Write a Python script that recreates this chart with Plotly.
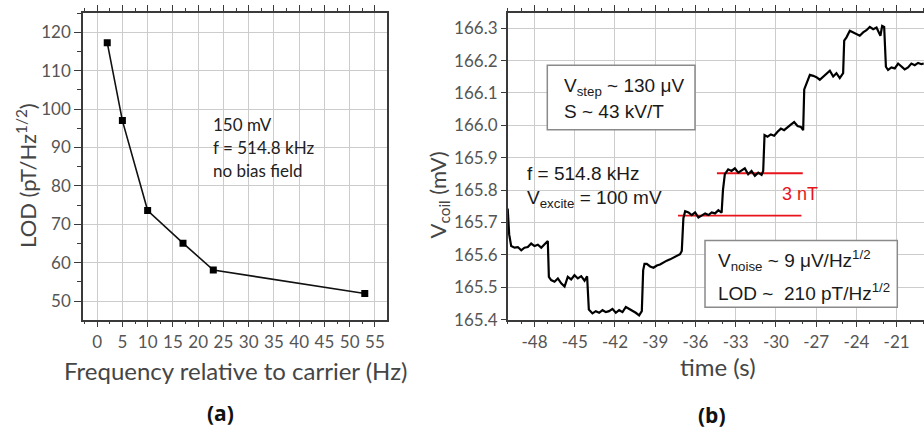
import plotly.graph_objects as go

# ---- panel (a): limit of detection vs. frequency offset ----
freq_hz = [2, 5, 10, 17, 23, 53]
lod_pt = [117.3, 97.0, 73.6, 65.1, 58.1, 52.0]

# ---- panel (b): coil voltage steps over time ----
time_s = [
    -50.00, -49.89, -49.74, -49.49, -49.24, -48.99, -48.75, -48.50, -48.25, -48.00,
    -47.75, -47.50, -47.25, -47.01, -46.93, -46.76, -46.51, -46.26, -46.01, -45.76,
    -45.52, -45.27, -45.02, -44.77, -44.52, -44.27, -44.08, -43.95, -43.68, -43.43,
    -43.18, -42.93, -42.68, -42.44, -42.19, -41.94, -41.69, -41.44, -41.19, -40.95,
    -40.70, -40.45, -40.20, -40.00, -39.90, -39.80, -39.63, -39.38, -39.13, -38.88,
    -38.64, -38.39, -38.14, -37.89, -37.64, -37.39, -37.15, -37.02, -36.90, -36.77,
    -36.52, -36.28, -36.03, -35.78, -35.53, -35.28, -35.03, -34.79, -34.54, -34.29,
    -34.05, -33.95, -33.81, -33.56, -33.31, -33.06, -32.81, -32.57, -32.32, -32.07,
    -31.82, -31.57, -31.32, -31.07, -30.95, -30.85, -30.63, -30.38, -30.13, -29.88,
    -29.63, -29.39, -29.14, -28.89, -28.64, -28.39, -28.14, -27.97, -27.89, -27.72,
    -27.47, -27.22, -26.98, -26.73, -26.48, -26.23, -25.98, -25.73, -25.49, -25.24,
    -24.99, -24.91, -24.74, -24.49, -24.24, -23.99, -23.75, -23.50, -23.25, -23.00,
    -22.75, -22.50, -22.33, -22.21, -22.08, -21.93, -21.80, -21.64, -21.39, -21.14,
    -20.89, -20.64, -20.40, -20.15, -19.90, -19.65, -19.40, -19.15, -18.98,
]
v_coil_mv = [
    165.743, 165.663, 165.627, 165.622, 165.624, 165.614, 165.622, 165.624, 165.635, 165.627,
    165.631, 165.622, 165.633, 165.643, 165.532, 165.522, 165.517, 165.527, 165.512, 165.502,
    165.532, 165.524, 165.537, 165.527, 165.534, 165.520, 165.534, 165.431, 165.419, 165.426,
    165.421, 165.429, 165.423, 165.426, 165.433, 165.421, 165.429, 165.423, 165.439, 165.433,
    165.429, 165.421, 165.413, 165.426, 165.552, 165.572, 165.572, 165.564, 165.560, 165.567,
    165.570, 165.577, 165.582, 165.586, 165.592, 165.597, 165.602, 165.612, 165.713, 165.735,
    165.731, 165.723, 165.731, 165.715, 165.721, 165.728, 165.723, 165.731, 165.728, 165.738,
    165.730, 165.800, 165.849, 165.864, 165.859, 165.867, 165.854, 165.861, 165.867, 165.849,
    165.859, 165.844, 165.854, 165.847, 165.859, 165.970, 165.965, 165.972, 165.968, 165.980,
    165.990, 165.985, 165.995, 166.002, 166.010, 165.998, 165.995, 165.985, 166.111, 166.131,
    166.156, 166.153, 166.149, 166.141, 166.151, 166.161, 166.169, 166.151, 166.161, 166.146,
    166.161, 166.262, 166.272, 166.292, 166.287, 166.280, 166.277, 166.287, 166.294, 166.304,
    166.297, 166.302, 166.287, 166.277, 166.307, 166.304, 166.181, 166.171, 166.179, 166.176,
    166.191, 166.181, 166.173, 166.179, 166.191, 166.186, 166.193, 166.189, 166.191,
]

# time-axis ticks, labelled with a plain hyphen-minus
time_ticks = [-48, -45, -42, -39, -36, -33, -30, -27, -24, -21]
time_tick_labels = ["-48", "-45", "-42", "-39", "-36", "-33", "-30", "-27", "-24", "-21"]

# red reference levels marking one 3 nT step
ref_levels_mv = [165.721, 165.852]
ref_start_s = [-37.3, -34.4]
ref_end_s = [-28.1, -28.0]

W, H = 924, 440
TICK_FONT = dict(family="Lato", size=17, color="#555555")
XTITLE_FONT = dict(family="Lato", size=24, color="#454545")
YTITLE_FONT = dict(family="Lato", size=22, color="#454545")
NOTE_FONT = dict(family="Liberation Sans", size=19, color="#1a1a1a")
GRID = "#cccccc"
FRAME = "#3a3a3a"


def px(x):
    return x / W


def py(y):
    return 1 - y / H


fig = go.Figure()

fig.add_trace(go.Scatter(
    x=freq_hz, y=lod_pt, mode="lines+markers",
    line=dict(color="#111111", width=1.6),
    marker=dict(symbol="square", size=7, color="#000000"),
    xaxis="x", yaxis="y", showlegend=False,
))

for lvl, t0, t1 in zip(ref_levels_mv, ref_start_s, ref_end_s):
    fig.add_trace(go.Scatter(
        x=[t0, t1], y=[lvl, lvl], mode="lines",
        line=dict(color="#e8141c", width=1.8),
        xaxis="x2", yaxis="y2", showlegend=False,
    ))

fig.add_trace(go.Scatter(
    x=time_s, y=v_coil_mv, mode="lines",
    line=dict(color="#000000", width=2.2),
    xaxis="x2", yaxis="y2", showlegend=False,
))

common_axis = dict(
    showgrid=True, gridcolor=GRID, gridwidth=1.2,
    showline=True, linecolor=FRAME, linewidth=1.5,
    ticks="outside", tickcolor=FRAME, tickwidth=1.2,
    tickfont=TICK_FONT, zeroline=False,
)

fig.update_layout(
    width=W, height=H,
    margin=dict(l=0, r=0, t=0, b=0),
    paper_bgcolor="white", plot_bgcolor="white",
    xaxis=dict(
        **common_axis, domain=[px(83), px(387)], range=[-2.8, 57.4],
        tick0=0, dtick=5, ticklen=6, mirror="ticks", anchor="y",
        minor=dict(dtick=2.5, ticklen=3, showgrid=False, tickcolor=FRAME),
    ),
    yaxis=dict(
        **common_axis, domain=[py(327), py(13)], range=[45.2, 125.1],
        tick0=0, dtick=10, ticklen=7, mirror=True, anchor="x",
        minor=dict(dtick=5, ticklen=4, showgrid=False, tickcolor=FRAME),
    ),
    xaxis2=dict(
        **common_axis, domain=[px(507.7), 1.0], range=[-50, -18.96],
        tickmode="array", tickvals=time_ticks, ticktext=time_tick_labels,
        ticklen=6, mirror="ticks", anchor="y2",
        minor=dict(dtick=1, tick0=-48, ticklen=3, showgrid=False, tickcolor=FRAME),
    ),
    yaxis2=dict(
        **common_axis, domain=[py(327), py(13)], range=[165.4, 166.348],
        tick0=165.4, dtick=0.1, tickformat=".1f", ticklen=5, mirror=False,
        anchor="x2",
    ),
)

# white legend-style boxes in panel (b)
for x0, x1, y0, y1 in [(547.3, 695, 66.7, 132.7), (705, 897.3, 246, 314.3)]:
    fig.add_shape(
        type="rect", xref="paper", yref="paper",
        x0=px(x0), x1=px(x1), y0=py(y1), y1=py(y0),
        fillcolor="white", line=dict(color="#8a8a8a", width=1.5), layer="above",
    )


def note(text, x, y, font, xanchor="left", angle=0):
    fig.add_annotation(
        text=text, x=px(x), y=py(y), xref="paper", yref="paper",
        xanchor=xanchor, yanchor="middle", showarrow=False,
        font=font, textangle=angle,
    )


# panel (a) notes
left_note = dict(family="Lato", size=17, color="#222222")
note("150 mV", 211, 127, left_note)
note("f = 514.8 kHz", 211, 151, left_note)
note("no bias field", 211, 174, left_note)

# panel (b) notes
note("V<sub>step</sub> ~ 130 μV", 562, 89, NOTE_FONT)
note("S ~ 43 kV/T", 562, 114, NOTE_FONT)
note("f = 514.8 kHz", 525, 178, NOTE_FONT)
note("V<sub>excite</sub> = 100 mV", 525, 204, NOTE_FONT)
note("V<sub>noise</sub> ~ 9 μV/Hz<sup>1/2</sup>", 716, 267, NOTE_FONT)
note("LOD ~\u00a0 210 pT/Hz<sup>1/2</sup>", 716, 299, NOTE_FONT)
note("3 nT", 800, 199, dict(family="Liberation Sans", size=18, color="#e8141c"),
     xanchor="center")

# axis titles
note("Frequency relative to carrier (Hz)", 235, 379, XTITLE_FONT, xanchor="center")
note("time (s)", 718, 375, XTITLE_FONT, xanchor="center")
note("LOD (pT/Hz<sup>1/2</sup>)", 27, 180, YTITLE_FONT, xanchor="center", angle=-90)
note("V<sub>coil</sub> (mV)", 439, 200, YTITLE_FONT, xanchor="center", angle=-90)

# panel labels
panel_font = dict(family="Open Sans", size=21, color="#111111")
note("<b>(a)</b>", 220, 423, panel_font, xanchor="center")
note("<b>(b)</b>", 712, 425, panel_font, xanchor="center")

fig.write_html("out.html")
